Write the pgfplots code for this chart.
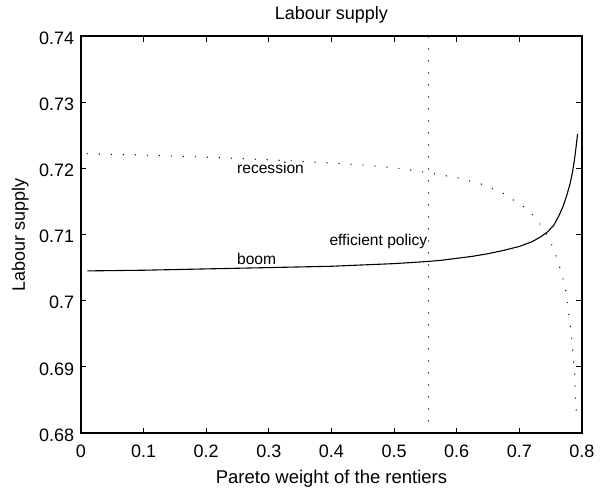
\documentclass[border=0pt]{standalone}
\usepackage{fontspec}
\setmainfont{Liberation Sans}
\usepackage{pgfplots}
\pgfplotsset{compat=1.18}
\begin{document}
\begin{tikzpicture}
\begin{axis}[
  at={(0pt,0pt)}, anchor=south west,
  scale only axis, width=501pt, height=397pt,
  xmin=0, xmax=0.8, ymin=0.68, ymax=0.74,
  xtick={0,0.1,0.2,0.3,0.4,0.5,0.6,0.7,0.8},
  ytick={0.68,0.69,0.70,0.71,0.72,0.73,0.74},
  scaled ticks=false,
  /pgf/number format/assume math mode=true,
  tick align=inside, major tick length=5.5pt,
  tick style={black, line width=0.8pt},
  axis line style={black, line width=1.2pt},
  ticklabel style={font=\fontsize{18}{21}\selectfont},
  xticklabel style={yshift=-8.4pt},
  yticklabel style={xshift=-3.3pt, yshift=-2pt},
  title={Labour supply},
  title style={at={(axis description cs:0.5,1.0252)}, anchor=base, font=\fontsize{18}{21}\selectfont},
  xlabel={Pareto weight of the rentiers},
  xlabel style={at={(axis description cs:0.5,-0.126)}, anchor=base, font=\fontsize{18.5}{21}\selectfont},
  ylabel={Labour supply},
  ylabel style={at={(axis description cs:-0.1118,0.5)}, anchor=base, rotate=0, font=\fontsize{18}{21}\selectfont},
  clip=false,
]
% boom (solid)
\addplot[black, line width=1.1pt, line join=round] coordinates {
(0.01,0.7045) (0.1,0.7046) (0.2,0.7048) (0.3,0.7050) (0.4,0.7052)
(0.45,0.7054) (0.5,0.7056) (0.55,0.7059) (0.575,0.7061) (0.6,0.7064)
(0.625,0.7067) (0.65,0.7071) (0.675,0.7076) (0.7,0.7082) (0.72,0.7089)
(0.735,0.7097) (0.745,0.7104) (0.755,0.7114) (0.763,0.7128) (0.77,0.7143)
(0.776,0.7160) (0.781,0.7177) (0.785,0.7195) (0.788,0.7213) (0.7905,0.7232)
(0.793,0.7252)
};
% recession (dotted)
\addplot[black, line width=1.4pt, line cap=round, dash pattern=on 0pt off 12pt] coordinates {
(0.01,0.7222) (0.1,0.7220) (0.2,0.7217) (0.3,0.7213) (0.4,0.7208)
(0.45,0.7205) (0.5,0.7201) (0.55,0.7194) (0.6,0.7186) (0.637,0.7177)
(0.673,0.7163) (0.705,0.7143) (0.72,0.7131) (0.731,0.7118) (0.7425,0.7102)
(0.7505,0.7087) (0.758,0.7070) (0.764,0.7052) (0.769,0.7035) (0.774,0.7016)
(0.781,0.6964) (0.785,0.6927) (0.788,0.6893) (0.7905,0.6837) (0.791,0.6830)
};
% efficient policy (vertical dotted)
\addplot[black, line width=1.4pt, line cap=round, dash pattern=on 0pt off 12pt] coordinates {
(0.555,0.68) (0.555,0.74)
};
\node[anchor=base west, inner sep=0pt, font=\fontsize{15.6}{18}\selectfont] at (axis cs:0.249,0.7192) {recession};
\node[anchor=base west, inner sep=0pt, font=\fontsize{15.6}{18}\selectfont] at (axis cs:0.249,0.7054) {boom};
\node[anchor=base west, inner sep=0pt, font=\fontsize{15.6}{18}\selectfont] at (axis cs:0.3965,0.7083) {efficient policy};
\end{axis}
\pgfresetboundingbox
\useasboundingbox (-81pt,-60pt) rectangle (519pt,433pt);
\end{tikzpicture}
\end{document}
